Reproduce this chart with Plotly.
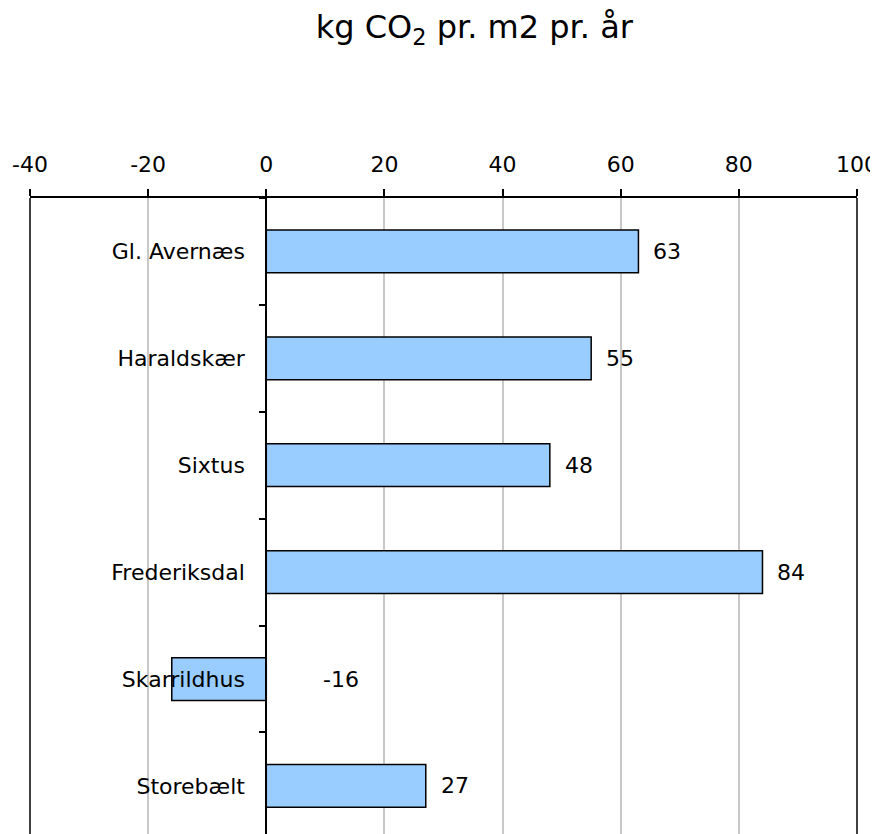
import plotly.graph_objects as go

categories = ["Gl. Avernæs", "Haraldskær", "Sixtus", "Frederiksdal", "Skarrildhus", "Storebælt"]
values = [63, 55, 48, 84, -16, 27]
x_ticks = [-40, -20, 0, 20, 40, 60, 80, 100]
x_tick_labels = [str(t) for t in x_ticks]
title_text = "kg CO<sub>2</sub> pr. m2 pr. år"

x_range = [x_ticks[0], x_ticks[-1]]
FONT = "DejaVu Sans"
FS = 22

fig = go.Figure()
fig.add_trace(go.Bar(
    x=values, y=categories, orientation="h",
    marker=dict(color="#99CCFF", line=dict(color="#000000", width=1.5)),
    hoverinfo="skip",
))

annotations = []
for c, v in zip(categories, values):
    annotations.append(dict(
        x=max(v, 0), y=c, xref="x", yref="y", text=str(v), showarrow=False,
        xanchor="left", xshift=13 if v >= 0 else 55,
        font=dict(family=FONT, size=FS, color="#000000"),
    ))

zero_pos = (0 - x_range[0]) / (x_range[1] - x_range[0])

fig.update_layout(
    width=870, height=826,
    margin=dict(l=22, r=21, t=190, b=0),
    paper_bgcolor="white", plot_bgcolor="white",
    showlegend=False,
    bargap=0.6,
    title=dict(text=title_text, x=0.536, xanchor="center", y=0.977, yanchor="middle",
               font=dict(family=FONT, size=32, color="#000000")),
    xaxis=dict(
        side="top", range=x_range, tickvals=x_ticks, ticktext=x_tick_labels,
        showline=True, linecolor="#000000", linewidth=1.5,
        ticks="outside", ticklen=7, tickcolor="#000000", tickwidth=1.5,
        showgrid=True, gridcolor="#c8c8c8", gridwidth=1.5,
        zeroline=False, ticklabelstandoff=8,
        tickfont=dict(family=FONT, size=FS, color="#000000"),
    ),
    yaxis=dict(
        categoryorder="array", categoryarray=categories,
        range=[len(categories) - 0.55, -0.5],
        anchor="free", position=zero_pos,
        showline=True, linecolor="#000000", linewidth=2,
        ticks="outside", tickson="boundaries", ticklen=6, tickcolor="#000000", tickwidth=1.5,
        showgrid=False, zeroline=False, ticklabelstandoff=16,
        tickfont=dict(family=FONT, size=FS, color="#000000"),
    ),
    annotations=annotations,
    shapes=[
        dict(type="line", xref="paper", yref="paper", x0=0, x1=0, y0=0, y1=1,
             line=dict(color="#000000", width=1.5)),
        dict(type="line", xref="paper", yref="paper", x0=1, x1=1, y0=0, y1=1,
             line=dict(color="#000000", width=1.5)),
    ],
)

fig.write_html("out.html")
